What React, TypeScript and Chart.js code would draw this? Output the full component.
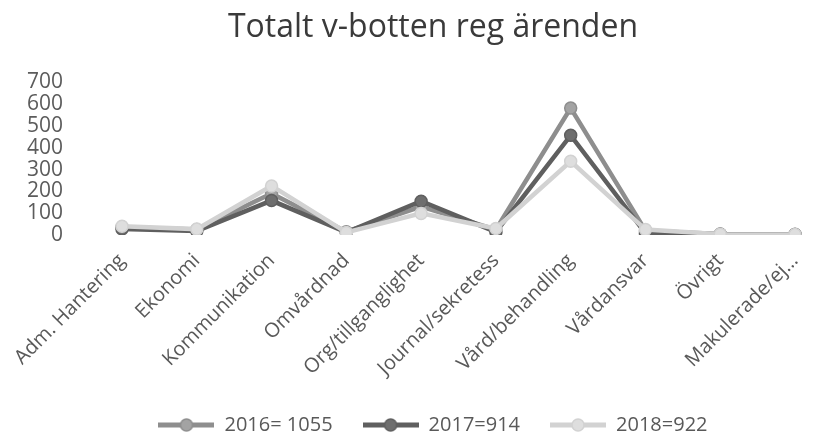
import React, { useEffect, useRef } from "react";
import { Chart, registerables } from "chart.js";

Chart.register(...registerables);

const categories = [
  "Adm. Hantering",
  "Ekonomi",
  "Kommunikation",
  "Omvårdnad",
  "Org/tillganglighet",
  "Journal/sekretess",
  "Vård/behandling",
  "Vårdansvar",
  "Övrigt",
  "Makulerade/ej…",
];

const series2016 = [35, 25, 190, 15, 130, 25, 582, 20, 5, 3];
const series2017 = [28, 18, 158, 12, 155, 14, 457, 8, 3, 2];
const series2018 = [40, 27, 225, 12, 99, 30, 338, 25, 4, 2];

const seriesLabels = ["2016= 1055", "2017=914", "2018=922"];
const lineColors = ["#8e8e8e", "#5f5f5f", "#d2d2d2"];
const pointFills = ["#a3a3a3", "#6e6e6e", "#dedede"];

const yTicks = [0, 100, 200, 300, 400, 500, 600, 700];

const FONT = "'Open Sans', sans-serif";

function legendIcon(color: string, fill: string): HTMLCanvasElement {
  const c = document.createElement("canvas");
  c.width = 56;
  c.height = 16;
  const ctx = c.getContext("2d")!;
  ctx.strokeStyle = color;
  ctx.lineWidth = 5;
  ctx.beginPath();
  ctx.moveTo(0, 8);
  ctx.lineTo(56, 8);
  ctx.stroke();
  ctx.beginPath();
  ctx.arc(28, 8, 6, 0, Math.PI * 2);
  ctx.fillStyle = fill;
  ctx.fill();
  ctx.lineWidth = 1.5;
  ctx.strokeStyle = color;
  ctx.stroke();
  return c;
}

const shiftPlugin = {
  id: "shiftBlocks",
  afterLayout(chart: any) {
    const dx = 19;
    const t = chart.titleBlock;
    if (t) {
      t.left += dx;
      t.right += dx;
    }
    const l = chart.legend;
    if (l) {
      l.left += dx;
      l.right += dx;
    }
  },
};

export default function App() {
  const ref = useRef<HTMLCanvasElement | null>(null);

  useEffect(() => {
    document.body.style.margin = "0";
    const canvas = ref.current!;
    const all = [series2016, series2017, series2018];
    const datasets = all.map((d, i) => ({
      label: seriesLabels[i],
      data: d,
      borderColor: lineColors[i],
      backgroundColor: pointFills[i],
      pointBackgroundColor: pointFills[i],
      pointBorderColor: lineColors[i],
      pointBorderWidth: 1.5,
      pointRadius: 6,
      borderWidth: 4.5,
      tension: 0,
      order: 3 - i,
    }));
    const icons = all.map((_, i) => legendIcon(lineColors[i], pointFills[i]));

    const chart = new Chart(canvas, {
      type: "line",
      data: { labels: categories, datasets },
      plugins: [shiftPlugin],
      options: {
        animation: false,
        responsive: false,
        layout: { padding: { left: 20, right: 18, top: 0, bottom: -11 } },
        plugins: {
          title: {
            display: true,
            text: "Totalt v-botten reg ärenden",
            color: "#3a3a3a",
            font: { family: FONT, size: 32, weight: "normal" },
            padding: { top: 9, bottom: 35 },
          },
          legend: {
            position: "bottom",
            labels: {
              usePointStyle: true,
              pointStyleWidth: 56,
              padding: 30,
              color: "#595959",
              font: { family: FONT, size: 20 },
              generateLabels: () =>
                seriesLabels.map((t, i) => ({
                  text: t,
                  datasetIndex: i,
                  pointStyle: icons[i],
                  fillStyle: pointFills[i],
                  strokeStyle: lineColors[i],
                  lineWidth: 0,
                  hidden: false,
                  fontColor: "#595959",
                })),
            },
          },
          tooltip: { enabled: false },
        },
        scales: {
          x: {
            offset: false,
            grid: { display: false, drawTicks: false },
            border: { display: false },
            ticks: {
              autoSkip: false,
              minRotation: 45,
              maxRotation: 45,
              padding: 14,
              color: "#595959",
              font: { family: FONT, size: 20 },
            },
            afterFit: (s: any) => {
              s.height = 150;
            },
          },
          y: {
            min: 0,
            max: 700,
            grid: { display: false, drawTicks: false },
            border: { display: false },
            afterBuildTicks: (s: any) => {
              s.ticks = yTicks.map((v) => ({ value: v }));
            },
            ticks: {
              autoSkip: false,
              padding: 59,
              color: "#5c5c5c",
              font: { family: FONT, size: 21, lineHeight: 1 },
            },
            afterFit: (s: any) => {
              s.width = 102;
            },
          },
        },
      },
    });
    return () => chart.destroy();
  }, []);

  return (
    <div style={{ width: 826, height: 434 }}>
      <canvas ref={ref} width={826} height={434} style={{ display: "block" }} />
    </div>
  );
}
